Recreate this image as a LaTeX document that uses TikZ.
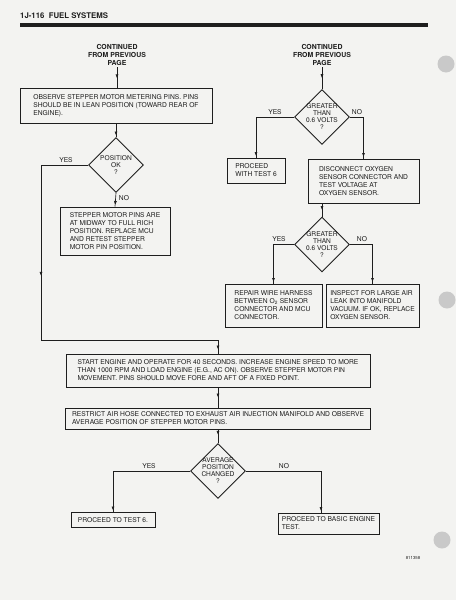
\documentclass[tikz,border=0pt]{standalone}
\usepackage{fontspec}
\setmainfont{TeX Gyre Heros}
\usetikzlibrary{arrows.meta,shapes.geometric,decorations.markings}
\definecolor{ink}{HTML}{1E1E1E}
\definecolor{paper}{HTML}{F3F3F1}
\definecolor{hole}{HTML}{C9C9C9}
\newcommand{\boxfont}{\fontsize{6.7}{8}\selectfont}
\newcommand{\askfont}{\fontsize{6.6}{7}\selectfont}
\newcommand{\contfont}{\fontsize{6.9}{7.6}\selectfont\bfseries}
\tikzset{
  stepbox/.style={draw=ink,line width=1pt,fill=paper,align=left,font=\boxfont,text=ink,inner sep=2pt},
  ask/.style={diamond,draw=ink,line width=0.9pt,fill=paper,align=center,font=\askfont,text=ink,
    inner sep=-4pt,minimum width=55pt,minimum height=55pt},
  flow/.style={draw=ink,line width=0.65pt},
  tipat/.style={postaction={decorate,decoration={markings,
    mark=at position #1 with {\arrow{Latex[length=4pt,width=3pt]}}}}},
  branch/.style={font=\boxfont,text=ink,inner sep=1pt},
  cont/.style={font=\contfont,text=ink,align=center,inner sep=2pt}
}
\begin{document}
\begin{tikzpicture}[x=1pt,y=-1pt,>={Latex}]
\fill[paper] (0,0) rectangle (456,600);
\useasboundingbox (0,0) rectangle (456,600);
\fill[hole] (446,64) circle (8.5pt);
\fill[hole] (447,300) circle (8.5pt);
\fill[hole] (442,540) circle (8.5pt);

\node[anchor=base west,font=\fontsize{7.8}{8}\selectfont\bfseries,text=ink,inner sep=0] (head) at (20,18.5) {1J-116\ \ FUEL SYSTEMS};
\draw[ink,line width=3.2pt] (20,25) -- (428,25);

\node[cont] (contL) at (117,55) {CONTINUED\\FROM PREVIOUS\\PAGE};
\node[cont] (contR) at (322,55) {CONTINUED\\FROM PREVIOUS\\PAGE};

\node[stepbox,minimum width=192pt,minimum height=35pt] (obs) at (116,105.5)
  {OBSERVE STEPPER MOTOR METERING PINS. PINS\\SHOULD BE IN LEAN POSITION (TOWARD REAR OF\\ENGINE).};
\node[ask] (posok) at (116,165) {POSITION\\OK\\?};
\node[stepbox,minimum width=110pt,minimum height=48pt] (midway) at (115,231)
  {STEPPER MOTOR PINS ARE\\AT MIDWAY TO FULL RICH\\POSITION. REPLACE MCU\\AND RETEST STEPPER\\MOTOR PIN POSITION.};

\node[ask] (gtv1) at (322,117) {GREATER\\THAN\\0.6 VOLTS\\?};
\node[stepbox,minimum width=58pt,minimum height=25pt] (test6a) at (256,170.5) {PROCEED\\WITH TEST 6};
\node[stepbox,minimum width=111pt,minimum height=44pt] (oxy) at (363.5,181)
  {DISCONNECT OXYGEN\\SENSOR CONNECTOR AND\\TEST VOLTAGE AT\\OXYGEN SENSOR.};
\node[ask] (gtv2) at (322,244.5) {GREATER\\THAN\\0.6 VOLTS\\?};
\node[stepbox,minimum width=97pt,minimum height=43pt] (harness) at (273.5,305.5)
  {REPAIR WIRE HARNESS\\BETWEEN O\textsubscript{2} SENSOR\\CONNECTOR AND MCU\\CONNECTOR.};
\node[stepbox,minimum width=93pt,minimum height=43pt] (inspect) at (372.5,305.5)
  {INSPECT FOR LARGE AIR\\LEAK INTO MANIFOLD\\VACUUM. IF OK, REPLACE\\OXYGEN SENSOR.};

\node[stepbox,minimum width=304pt,minimum height=33pt] (start) at (218,370.5)
  {START ENGINE AND OPERATE FOR 40 SECONDS. INCREASE ENGINE SPEED TO MORE\\THAN 1000 RPM AND LOAD ENGINE (E.G., AC ON). OBSERVE STEPPER MOTOR PIN\\MOVEMENT. PINS SHOULD MOVE FORE AND AFT OF A FIXED POINT.};
\node[stepbox,minimum width=305pt,minimum height=21pt] (restrict) at (218,418.5)
  {RESTRICT AIR HOSE CONNECTED TO EXHAUST AIR INJECTION MANIFOLD AND OBSERVE\\AVERAGE POSITION OF STEPPER MOTOR PINS.};
\node[ask] (avgpos) at (218,471) {AVERAGE\\POSITION\\CHANGED\\?};
\node[stepbox,minimum width=84pt,minimum height=15pt] (test6b) at (113,520) {PROCEED TO TEST 6.};
\node[stepbox,minimum width=101pt,minimum height=21pt] (basic) at (328.5,523.5) {PROCEED TO BASIC ENGINE\\TEST.};

\node[font=\fontsize{4.3}{5}\selectfont,text=ink,inner sep=0] (figno) at (413,558) {811358};

\coordinate (ybend) at (41,340);
\draw[flow,tipat=0.55] (contL.south) -- (contL.south |- obs.north);
\draw[flow,tipat=-1.5pt] (obs.south) -- (posok.north);
\draw[flow,tipat=158pt,tipat=-4pt] (posok.west) -| (ybend) -| (start.north);
\draw[flow,tipat=-1.5pt] (posok.south) -- (midway.north);
\node[branch] (yes1) at (66,160) {YES};
\node[branch] (no1) at (124,198) {NO};

\draw[flow,tipat=0.5] (contR.south) -- (gtv1.north);
\draw[flow,tipat=-1.5pt] (gtv1.west) -| (test6a.north);
\draw[flow,tipat=-1.5pt] (gtv1.east) -| (oxy.north);
\node[branch] (yes2) at (275,112) {YES};
\node[branch] (no2) at (357,112) {NO};
\draw[flow,tipat=0.5] (oxy.south -| gtv2.north) -- (gtv2.north);
\draw[flow,tipat=-1.5pt] (gtv2.west) -| (harness.north);
\draw[flow,tipat=-1.5pt] (gtv2.east) -| (inspect.north);
\node[branch] (yes3) at (279,239) {YES};
\node[branch] (no3) at (362,239) {NO};

\draw[flow,tipat=0.5] (start.south) -- (restrict.north);
\draw[flow,tipat=0.4] (restrict.south) -- (avgpos.north);
\draw[flow,tipat=-1.5pt] (avgpos.west) -| (test6b.north);
\draw[flow,tipat=-1.5pt] (avgpos.east) -| ([xshift=-7.5pt]basic.north);
\node[branch] (yes4) at (149,466) {YES};
\node[branch] (no4) at (284,466) {NO};
\end{tikzpicture}
\end{document}
